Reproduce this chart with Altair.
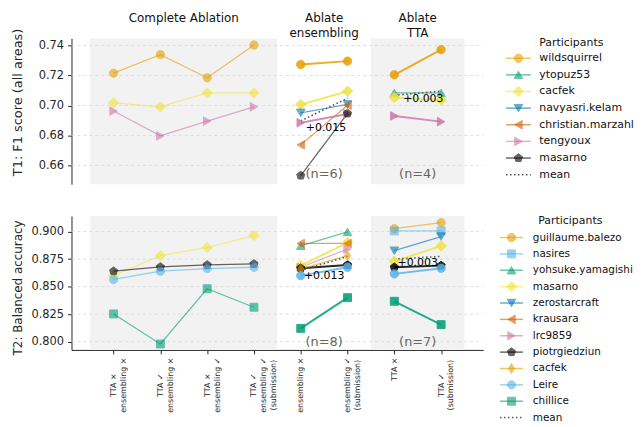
import json
import altair as alt
import pandas as pd

# ---------------- data ----------------
positions = [0, 1, 2, 3, 4, 5, 6, 7]
panel_of_position = ["complete", "complete", "complete", "complete", "ens", "ens", "tta", "tta"]
x_labels = [
    "TTA ×\nensembling ×",
    "TTA ✓\nensembling ×",
    "TTA ×\nensembling ✓",
    "TTA ✓\nensembling ✓\n(submission)",
    "ensembling ×",
    "ensembling ✓\n(submission)",
    "TTA ×",
    "TTA ✓\n(submission)",
]
panel_titles = ["Complete Ablation", "Ablate\nensembling", "Ablate\nTTA"]
panel_centers = [1.5, 4.5, 6.5]
shaded_from = [-0.5, 5.5]
shaded_to = [3.5, 7.5]

# T1: F1 score (all areas)
t1_participants = ["wildsquirrel", "ytopuz53", "cacfek", "navyasri.kelam",
                   "christian.marzahl", "tengyoux", "masarno"]
t1_scores = {
    "wildsquirrel":      [0.7216, 0.7340, 0.7185, 0.7404, 0.7274, 0.7296, 0.7205, 0.7373],
    "ytopuz53":          [None, None, None, None, None, None, 0.7084, 0.7084],
    "cacfek":            [0.7018, 0.6991, 0.7084, 0.7084, 0.7006, 0.7095, 0.7053, 0.7036],
    "navyasri.kelam":    [None, None, None, None, 0.6951, 0.7008, None, None],
    "christian.marzahl": [None, None, None, None, 0.6737, 0.7002, None, None],
    "tengyoux":          [0.6963, 0.6797, 0.6896, 0.6991, 0.6885, 0.6943, 0.6930, 0.6892],
    "masarno":           [None, None, None, None, 0.6532, 0.6947, None, None],
}
t1_ticks = [0.66, 0.68, 0.70, 0.72, 0.74]
t1_delta_text = ["+0.015", "+0.003"]
t1_delta_x = [4.54, 6.62]
t1_delta_y = [0.6852, 0.7046]
t1_n_text = ["(n=6)", "(n=4)"]
t1_n_y = 0.654

# T2: Balanced accuracy
t2_participants = ["guillaume.balezo", "nasires", "yohsuke.yamagishi", "masarno",
                   "zerostarcraft", "krausara", "lrc9859", "piotrgiedziun",
                   "cacfek", "Leire", "chillice"]
t2_scores = {
    "guillaume.balezo":  [None, None, None, None, None, None, 0.9027, 0.9081],
    "nasires":           [None, None, None, None, None, None, 0.9006, 0.9006],
    "yohsuke.yamagishi": [None, None, None, None, 0.8871, 0.8997, None, None],
    "masarno":           [0.8601, 0.8781, 0.8856, 0.8964, 0.8691, 0.8900, 0.8730, 0.8870],
    "zerostarcraft":     [None, None, None, None, None, None, 0.8826, 0.8955],
    "krausara":          [None, None, None, None, 0.8892, 0.8892, None, None],
    "lrc9859":           [None, None, None, None, 0.8676, 0.8841, None, None],
    "piotrgiedziun":     [0.8640, 0.8679, 0.8697, 0.8706, 0.8667, 0.8697, 0.8676, 0.8691],
    "cacfek":            [None, None, None, None, 0.8661, 0.8781, None, None],
    "Leire":             [0.8565, 0.8640, 0.8664, 0.8676, 0.8600, 0.8676, 0.8616, 0.8667],
    "chillice":          [0.8252, 0.7979, 0.8481, 0.8313, 0.8121, 0.8400, 0.8367, 0.8155],
}
t2_ticks = [0.800, 0.825, 0.850, 0.875, 0.900]
t2_delta_text = ["+0.013", "+0.003"]
t2_delta_x = [4.5, 6.5]
t2_delta_y = [0.8592, 0.8715]
t2_n_text = ["(n=8)", "(n=7)"]
t2_n_y = 0.800

# ---------------- styles ----------------
PENTAGON = "M0,-1L0.951,-0.309L0.588,0.809L-0.588,0.809L-0.951,-0.309Z"
THIN_DIAMOND = "M0,-1L0.62,0L0,1L-0.62,0Z"
shape_size = {"circle": 70, "square": 64, "triangle-up": 75, "triangle-down": 75,
              "triangle-left": 75, "triangle-right": 75, "diamond": 110,
              PENTAGON: 75, THIN_DIAMOND: 100}
t1_colors = ["#E69F00", "#009E73", "#F0E442", "#0072B2", "#D55E00", "#CC79A7", "#000000"]
t1_shapes = ["circle", "triangle-up", "diamond", "triangle-down", "triangle-left",
             "triangle-right", PENTAGON]
t2_colors = ["#E69F00", "#56B4E9", "#009E73", "#F0E442", "#0072B2", "#D55E00",
             "#CC79A7", "#000000", "#E69F00", "#56B4E9", "#009E73"]
t2_shapes = ["circle", "square", "triangle-up", "diamond", "triangle-down", "triangle-left",
             "triangle-right", PENTAGON, THIN_DIAMOND, "circle", "square"]
AX = "#262626"
TXT = "#111111"
PLOT_W = 415

LABEL_EXPR = "split(" + json.dumps(x_labels, ensure_ascii=False) + "[datum.value], '\\n')"


def long_table(names, scores, colors, shapes):
    rows = []
    in_complete = {n for n in names if any(v is not None for v in scores[n][:4])}
    for n, c, s in zip(names, colors, shapes):
        for p, v in zip(positions, scores[n]):
            if v is None:
                continue
            panel = panel_of_position[p]
            dbl = (n in in_complete) and panel != "complete"
            rows.append(dict(name=n, pos=p, value=v, panel=panel, grp=n + "|" + panel,
                             color=c, shape=s, msize=shape_size[s],
                             lw=1.9 if dbl else 1.3, op=0.85 if dbl else 0.6))
    return pd.DataFrame(rows)


def build(names, scores, colors, shapes, ticks, fmt, domain, height, y_title, title_size, title_y,
          delta_x, delta_y, delta_text, n_y, n_text, show_x, show_titles, leg):
    df = long_table(names, scores, colors, shapes)
    mdf = df[df.panel != "complete"].groupby(["panel", "pos"], as_index=False)["value"].mean()

    xs = alt.Scale(domain=[-0.9, 7.9], nice=False, zero=False)
    if show_x:
        xa = alt.Axis(values=positions, labelExpr=LABEL_EXPR, labelAngle=270, labelFontSize=8,
                      labelLineHeight=10, labelOverlap=False, labelFlush=False,
                      labelAlign="center", labelBaseline="middle",
                      labelPadding={"condition": {"test": "datum.value == 6", "value": 15},
                                    "value": 31},
                      tickSize=4, tickColor=AX, domainColor=AX, labelColor=AX, grid=False,
                      title=None)
    else:
        xa = None
    ys = alt.Scale(domain=domain, nice=False, zero=False)
    ya = alt.Axis(values=ticks, format=fmt, grid=False, tickSize=4, tickColor=AX,
                  domainColor=AX, labelFontSize=11.5, labelPadding=4, labelColor=AX,
                  titleFontSize=title_size, titleFontWeight="normal", titleColor=AX,
                  titlePadding=7, titleY=title_y, minExtent=40, maxExtent=40)

    def X(f):
        return alt.X(f, scale=xs, axis=xa)

    def Y(f):
        return alt.Y(f, scale=ys, axis=ya, title=y_title)

    shade = alt.Chart(pd.DataFrame({"x0": shaded_from, "x1": shaded_to})).mark_rect(
        color="#f2f2f2").encode(x=X("x0:Q"), x2="x1:Q", y=alt.value(0), y2=alt.value(height))
    grid = alt.Chart(pd.DataFrame({"value": ticks})).mark_rule(
        color="#d6d6d6", strokeDash=[3, 3], strokeWidth=0.8).encode(
        y=Y("value:Q"), x=alt.value(0), x2=alt.value(PLOT_W))
    lines = alt.Chart(df).mark_line().encode(
        x=X("pos:Q"), y=Y("value:Q"), detail="grp:N",
        color=alt.Color("color:N", scale=None),
        strokeWidth=alt.StrokeWidth("lw:Q", scale=None),
        opacity=alt.Opacity("op:Q", scale=None))
    mean_line = alt.Chart(mdf).mark_line(color="#555555", strokeDash=[1.5, 2.5],
                                         strokeWidth=1.6).encode(
        x=X("pos:Q"), y=Y("value:Q"), detail="panel:N")
    points = alt.Chart(df).mark_point(filled=True, strokeWidth=1).encode(
        x=X("pos:Q"), y=Y("value:Q"),
        fill=alt.Fill("color:N", scale=None), stroke=alt.Stroke("color:N", scale=None),
        shape=alt.Shape("shape:N", scale=None), size=alt.Size("msize:Q", scale=None),
        opacity=alt.Opacity("op:Q", scale=None))
    deltas = alt.Chart(pd.DataFrame({"pos": delta_x, "value": delta_y, "t": delta_text})).mark_text(
        fontSize=11, color="#000000", baseline="middle").encode(
        x=X("pos:Q"), y=Y("value:Q"), text="t:N")
    ns = alt.Chart(pd.DataFrame({"pos": panel_centers[1:], "value": [n_y, n_y], "t": n_text})).mark_text(
        fontSize=13, color="#666666", baseline="middle").encode(
        x=X("pos:Q"), y=Y("value:Q"), text="t:N")
    main = [shade, grid, lines, mean_line, points, deltas, ns]
    if show_titles:
        titles = alt.Chart(pd.DataFrame({"pos": panel_centers, "t": panel_titles})).mark_text(
            fontSize=12, baseline="top", lineBreak="\n", lineHeight=15.5, color=TXT).encode(
            x=X("pos:Q"), y=alt.value(-26), text="t:N")
        main.append(titles)

    # ---- legend (drawn to the right of the plot) ----
    n = len(names)
    ls = alt.Scale(domain=[-leg["top"] / leg["step"], (height - leg["top"]) / leg["step"]],
                   reverse=True, nice=False, zero=False)
    LY = alt.Y("idx:Q", scale=ls, axis=None)
    entries = pd.DataFrame({"idx": list(range(n)), "name": names, "color": colors,
                            "shape": shapes, "msize": [shape_size[s] for s in shapes]})
    l_rules = alt.Chart(entries).mark_rule(strokeWidth=1.5, opacity=0.6).encode(
        y=LY, x=alt.value(leg["r0"]), x2=alt.value(leg["r1"]),
        color=alt.Color("color:N", scale=None))
    l_marks = alt.Chart(entries).mark_point(filled=True, opacity=0.6, strokeWidth=1).encode(
        y=LY, x=alt.value(leg["m"]),
        fill=alt.Fill("color:N", scale=None), stroke=alt.Stroke("color:N", scale=None),
        shape=alt.Shape("shape:N", scale=None), size=alt.Size("msize:Q", scale=None))
    l_mean = alt.Chart(pd.DataFrame({"idx": [n]})).mark_rule(
        strokeDash=[1.5, 2.5], strokeWidth=1.5, color="#555555").encode(
        y=LY, x=alt.value(leg["r0"]), x2=alt.value(leg["r1"]))
    l_text = alt.Chart(pd.DataFrame({"idx": list(range(n + 1)), "name": names + ["mean"]})).mark_text(
        align="left", baseline="middle", fontSize=leg["fs"], color=TXT).encode(
        y=LY, x=alt.value(leg["t"]), text="name:N")
    l_title = alt.Chart(pd.DataFrame({"idx": [-leg["title"] / leg["step"]], "name": ["Participants"]})).mark_text(
        align="left", baseline="middle", fontSize=11, color=TXT).encode(
        y=LY, x=alt.value(leg["tt"]), text="name:N")
    legend = alt.layer(l_rules, l_mean, l_marks, l_text, l_title)

    return alt.layer(alt.layer(*main), legend).resolve_scale(y="independent").properties(
        width=PLOT_W, height=height)


top = build(t1_participants, t1_scores, t1_colors, t1_shapes, t1_ticks, ".2f",
            [0.6474, 0.7448], 147, "T1: F1 score (all areas)", 13, 64,
            t1_delta_x, t1_delta_y, t1_delta_text, t1_n_y, t1_n_text, False, True,
            dict(top=20, step=16.76, title=15.3, r0=438, r1=463, m=450.5, t=471.5, tt=471.5, fs=11))
bottom = build(t2_participants, t2_scores, t2_colors, t2_shapes, t2_ticks, ".3f",
               [0.79252, 0.91414], 135, "T2: Balanced accuracy", 12, 72,
               t2_delta_x, t2_delta_y, t2_delta_text, t2_n_y, t2_n_text, True, False,
               dict(top=21.7, step=16.5, title=16.7, r0=432, r1=455, m=443.5, t=465, tt=470.5, fs=10.5))

chart = alt.vconcat(top, bottom, spacing=31).properties(
    padding={"left": 3, "top": 2, "right": 2, "bottom": 0}
).configure(font="DejaVu Sans").configure_view(stroke=None)

chart.save("out.html", embed_options={"renderer": "svg", "actions": False})
